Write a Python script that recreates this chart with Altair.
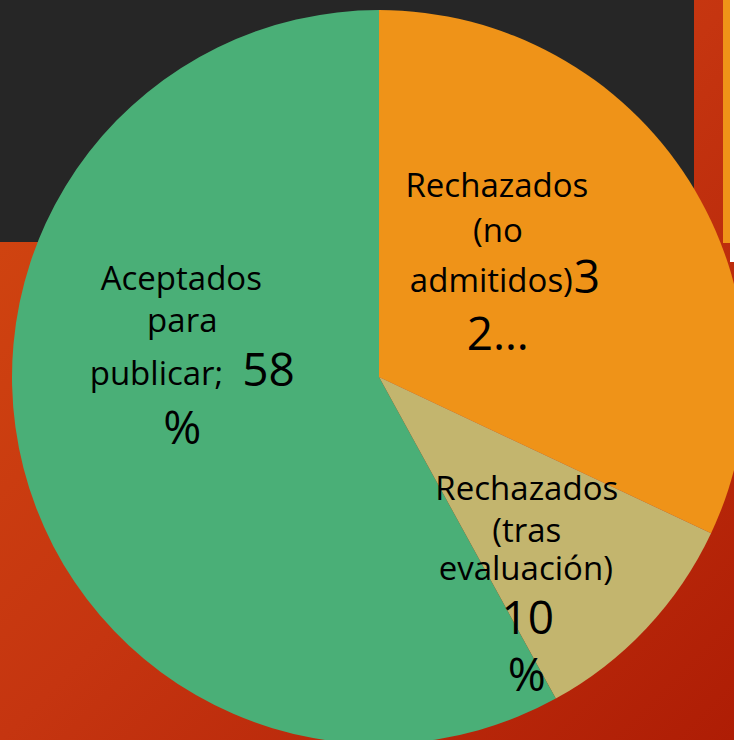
import altair as alt
import pandas as pd

# ---- data -------------------------------------------------------------
categories = ["Rechazados (no admitidos)", "Rechazados (tras evaluación)", "Aceptados para publicar"]
values = [32, 10, 58]
slice_order = [1, 2, 3]
colors = ["#EF9318", "#C3B56E", "#4AAF77"]

# label texts, line by line (as shown on the slide)
label_orange = ["Rechazados", "(no", "admitidos)", "3", "2…"]
label_khaki = ["Rechazados", "(tras", "evaluación)", "10", "%"]
label_green = ["Aceptados", "para", "publicar;", "58", "%"]

df = pd.DataFrame({"category": categories, "value": values, "order": slice_order})

# ---- layout / style ---------------------------------------------------
W, H = 734, 740
CX, CY, R = 379, 377, 367
LABEL_R = 200
FONT = "Open Sans"
S_TXT, S_NUM = 33, 46

# (text, size, align, dx, dy) relative to the slice's label anchor
layout = {
    categories[0]: [(label_orange[0], S_TXT, "center", -51, -73),
                    (label_orange[1], S_TXT, "center", -50, -28),
                    (label_orange[2], S_TXT, "right", 25, 22),
                    (label_orange[3], S_NUM, "left", 26, 23),
                    (label_orange[4], S_NUM, "center", -50, 80)],
    categories[1]: [(label_khaki[0], S_TXT, "center", 2, -14),
                    (label_khaki[1], S_TXT, "center", 2, 28),
                    (label_khaki[2], S_TXT, "center", 1, 66),
                    (label_khaki[3], S_NUM, "center", 3, 120),
                    (label_khaki[4], S_NUM, "center", 2, 177)],
    categories[2]: [(label_green[0], S_TXT, "center", -4, -137),
                    (label_green[1], S_TXT, "center", -3, -95),
                    (label_green[2], S_TXT, "right", 38, -42),
                    (label_green[3], S_NUM, "left", 57, -41),
                    (label_green[4], S_NUM, "center", -3, 17)],
}

one = pd.DataFrame({"k": [0]})


def rect(x, x2, y, y2, fill):
    return alt.Chart(one).mark_rect(fill=fill, strokeWidth=0).encode(
        x=alt.value(x), x2=alt.value(x2), y=alt.value(y), y2=alt.value(y2)
    )


bg_grad = alt.LinearGradient(
    gradient="linear",
    stops=[alt.GradientStop(color="#D44A10", offset=0),
           alt.GradientStop(color="#C53510", offset=0.5),
           alt.GradientStop(color="#AE1D05", offset=1)],
    x1=0, y1=0, x2=1, y2=1,
)

background = [
    rect(0, W, 0, H, bg_grad),
    rect(0, 694, 0, 242, "#262626"),
    rect(723, W, 0, 243, "#EF9318"),
    rect(730, W, 0, 262, "#FFFFFF"),
]

theta_scale = alt.Scale(domain=[0, 100])

pie = alt.Chart(df).mark_arc(outerRadius=R, strokeWidth=0).encode(
    theta=alt.Theta("value:Q", stack=True, scale=theta_scale),
    order=alt.Order("order:Q"),
    color=alt.Color("category:N", scale=alt.Scale(domain=categories, range=colors), legend=None),
    x=alt.value(CX),
    y=alt.value(CY),
)

texts = []
for cat in categories:
    for (txt, size, align, dx, dy) in layout[cat]:
        t = (
            alt.Chart(df)
            .transform_window(cum="sum(value)", sort=[alt.SortField("order")])
            .transform_calculate(mid="datum.cum - datum.value / 2")
            .transform_filter(alt.datum.category == cat)
            .mark_text(text=txt, font=FONT, fontSize=size, align=align,
                       baseline="alphabetic", dx=dx, dy=dy, color="#000000")
            .encode(
                theta=alt.Theta("mid:Q", stack=None, scale=theta_scale),
                radius=alt.value(LABEL_R),
                x=alt.value(CX),
                y=alt.value(CY),
            )
        )
        texts.append(t)

chart = alt.layer(*background, pie, *texts).properties(
    width=W, height=H, padding=0, autosize="none", background="#C53510"
).configure_view(stroke=None)

chart.save("out.html", embed_options={"renderer": "svg", "actions": False})
